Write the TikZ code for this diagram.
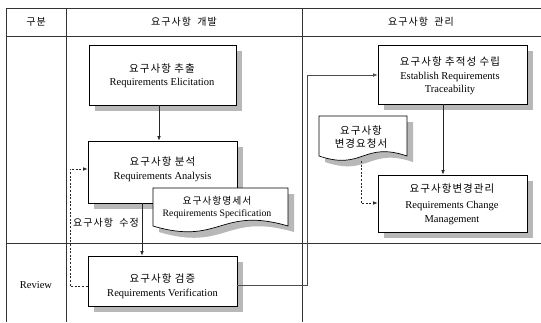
\documentclass[tikz,border=0pt]{standalone}
\usepackage{fontspec}
\setmainfont{Liberation Serif}
\newfontfamily\kr[LetterSpace=10]{Noto Sans CJK KR}
\usetikzlibrary{arrows.meta}
\begin{document}
\begin{tikzpicture}[x=1pt,y=-1pt,
  grid/.style={draw=black!80, line width=0.8pt},
  box/.style={draw=black, line width=0.7pt, fill=white, inner sep=0pt},
  shd/.style={fill=black!28},
  lbl/.style={align=center, inner sep=0pt, font=\fontsize{10.5}{13.5}\selectfont},
  krt/.style={inner sep=0pt, font=\kr\fontsize{10}{12}\selectfont},
  conn/.style={draw=black!85, line width=0.6pt, -{Latex[length=4.5pt,width=3.5pt]}},
  dconn/.style={conn, dash pattern=on 2pt off 1.6pt},
]
\useasboundingbox (0,0) rectangle (541,322);
\fill[white] (0,0) rectangle (541,322);

% table grid
\draw[grid] (6,8) -- (541,8);
\draw[grid] (6,36) -- (541,36);
\draw[grid] (6,243) -- (541,243);
\draw[grid] (6,8) -- (6,322);
\draw[grid] (66,8) -- (66,322);
\draw[grid] (302,8) -- (302,322);

% headers
\node[krt] (h1) at (36,22) {구분};
\node[krt] (h2) at (184,22) {요구사항 \ 개발};
\node[krt] (h3) at (421,22) {요구사항 \ 관리};
\node[lbl] (h4) at (36,285) {Review};

% shadows
\fill[shd] (95,51) rectangle (242,111);
\fill[shd] (94,147) rectangle (243,209);
\fill[shd] (94,262) rectangle (243,312);
\fill[shd] (384,51) rectangle (533,110);
\fill[shd] (384,181) rectangle (533,238);

% boxes
\node[box, minimum width=147pt, minimum height=60pt] (elic) at (162.5,75) {};
\node[box, minimum width=149pt, minimum height=62pt] (ana) at (162.5,172) {};
\node[box, minimum width=149pt, minimum height=50pt] (ver) at (162.5,281) {};
\node[box, minimum width=149pt, minimum height=59pt] (tra) at (452.5,74.5) {};
\node[box, minimum width=149pt, minimum height=57pt] (chg) at (452.5,203.5) {};

% box texts
\node[lbl] (elict) at (162,75.5) {\kr 요구사항 추출\\Requirements Elicitation};
\node[lbl] (anat) at (162.5,169) {\kr 요구사항 분석\\Requirements Analysis};
\node[lbl] (vert) at (162.5,286) {\kr 요구사항 검증\\Requirements Verification};
\node[lbl] (trat) at (450,76) {\kr 요구사항 추적성 수립\\Establish Requirements\\Traceability};
\node[lbl] (chgt) at (452,204) {\kr 요구사항변경관리\\[3pt]Requirements Change\\Management};

% spec document
\fill[shd] (159,194) -- (294,194) -- (294,232) .. controls (226,212) and (226,252) .. (159,232) -- cycle;
\draw[box] (153,188) -- (288,188) -- (288,226) .. controls (220,206) and (220,246) .. (153,226) -- cycle;
\node[lbl, font=\fontsize{9.8}{12}\selectfont] (spec) at (217,207) {\kr 요구사항명세서\\Requirements Specification};

% change request document
\fill[shd] (325,122) -- (413,122) -- (413,162) .. controls (369,147) and (369,177) .. (325,162) -- cycle;
\draw[box] (319,116) -- (407,116) -- (407,156) .. controls (363,141) and (363,171) .. (319,156) -- cycle;
\node[lbl, font=\kr\fontsize{10.5}{13}\selectfont] (req) at (361,137) {요구사항\\변경요청서};
\coordinate (reqb) at (361,161);

% connectors
\draw[conn] ([xshift=-3.5pt]elic.south) -- ([xshift=-3.5pt]elic.south |- ana.north);
\draw[conn] ([xshift=-20.5pt]ana.south) -- ([xshift=-20.5pt]ana.south |- ver.north);
\draw[conn, draw=black!70] ([yshift=-4pt]ver.east) -- (307,285) -- (307,75) -- ([yshift=-0.5pt]tra.west);
\draw[conn] ([xshift=-9.5pt]tra.south) -- ([xshift=-9.5pt]tra.south |- chg.north);
\draw[dconn] (reqb) -- (361,203) -- ([yshift=0.5pt]chg.west);
\draw[dconn] ([yshift=-5pt]ver.west) -- (70,286) -- (70,169) -- ([yshift=3pt]ana.west);
\node[krt, anchor=west] (fix) at (73,223) {요구사항 \ 수정};
\end{tikzpicture}
\end{document}
